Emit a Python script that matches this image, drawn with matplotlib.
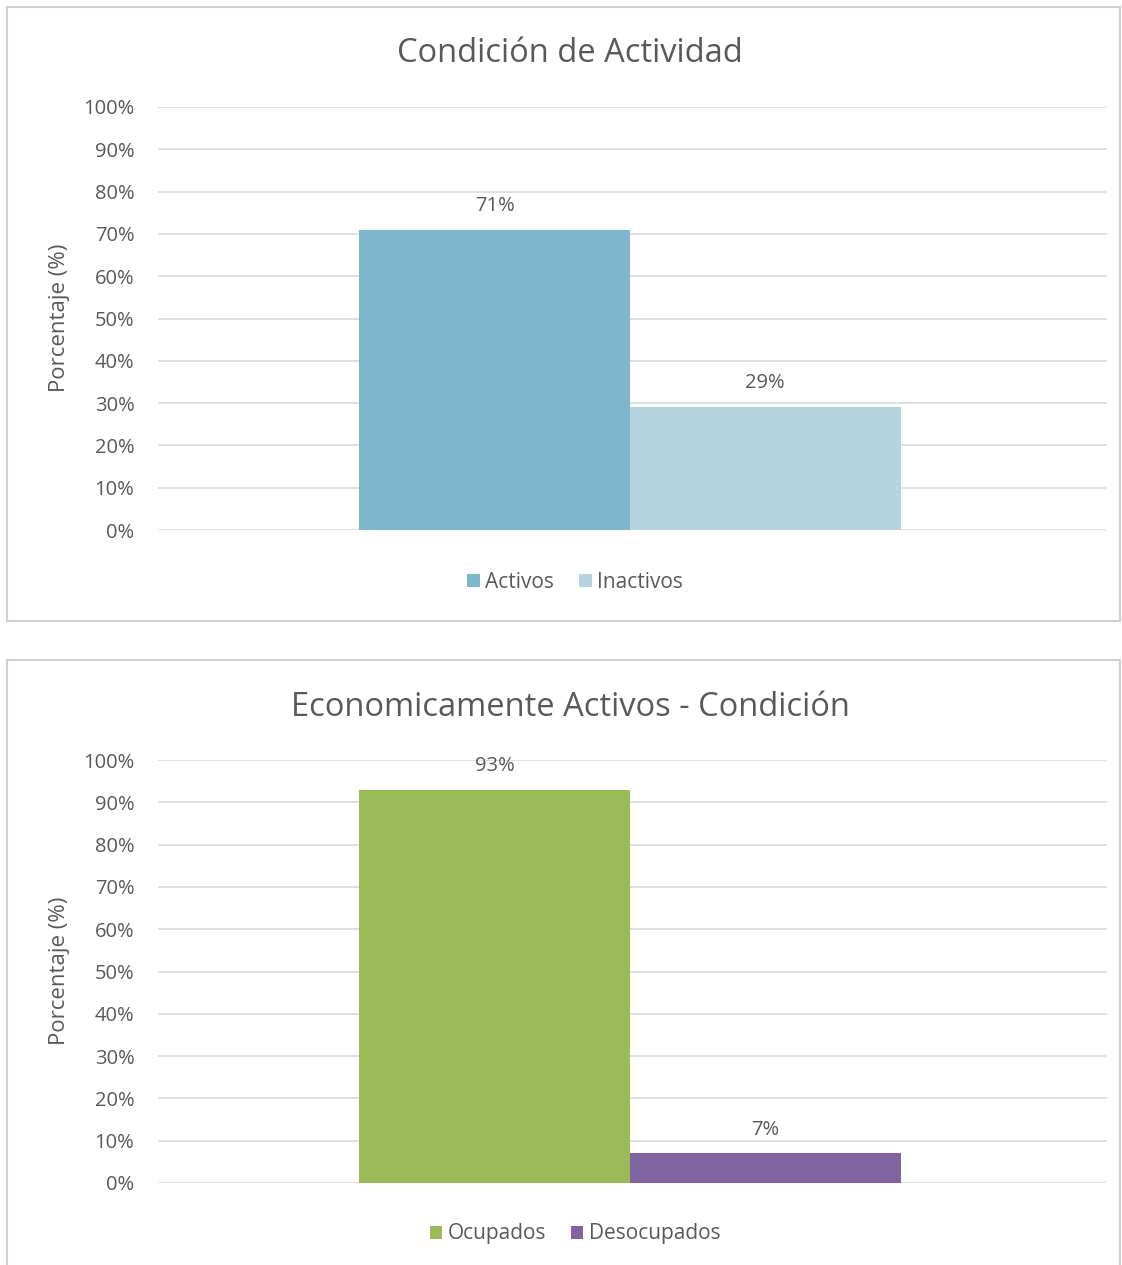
import matplotlib
matplotlib.use("Agg")
import matplotlib.pyplot as plt
from matplotlib.patches import Rectangle
from matplotlib.ticker import FuncFormatter

plt.rcParams['font.family'] = ['Open Sans', 'DejaVu Sans']

# Data
titles = ["Condición de Actividad", "Economicamente Activos - Condición"]
series_names = [["Activos", "Inactivos"], ["Ocupados", "Desocupados"]]
series_values = [[71, 29], [93, 7]]
series_colors = [["#7EB7CD", "#B6D4DF"], ["#9BBB59", "#8064A2"]]
y_ticks = [0, 10, 20, 30, 40, 50, 60, 70, 80, 90, 100]
y_label = "Porcentaje (%)"

W, H = 1122, 1265
fig = plt.figure(figsize=(W / 100, H / 100), dpi=100)

txt = "#595959"
grid_c = "#D9D9D9"

# chart frames (pixel coords -> figure fraction)
def frame(x0, y0, x1, y1):
    fig.patches.append(Rectangle((x0 / W, 1 - y1 / H), (x1 - x0) / W, (y1 - y0) / H,
                                 transform=fig.transFigure, fill=False,
                                 edgecolor="#D0D0D0", linewidth=1.5))

frame(7, 7, 1120, 621)
frame(7, 660, 1120, 1275)

ax_left, ax_right = 158, 1107
panels = [
    dict(y0=530, y100=107, title_y=54, legend_y=582, ylabel_y=318),
    dict(y0=1183, y100=760, title_y=708, legend_y=1234, ylabel_y=971),
]

bar_w = 270.5 / (ax_right - ax_left)

for i, p in enumerate(panels):
    ax = fig.add_axes([ax_left / W, 1 - p["y0"] / H,
                       (ax_right - ax_left) / W, (p["y0"] - p["y100"]) / H])
    ax.set_xlim(-0.5, 0.5)
    ax.set_ylim(0, 100)
    center = (630 - ax_left) / (ax_right - ax_left) - 0.5
    handles = []
    for j, (name, val, col) in enumerate(zip(series_names[i], series_values[i], series_colors[i])):
        xpos = center + (j - 0.5) * bar_w
        b = ax.bar(xpos, val, width=bar_w, color=col, label=name, zorder=3)
        handles.append(b)
        ax.annotate(f"{val}%", (xpos, val), xytext=(0, 10), textcoords="offset points",
                    ha="center", va="bottom", fontsize=14.5, color=txt)
    ax.set_yticks(y_ticks)
    ax.yaxis.set_major_formatter(FuncFormatter(lambda v, pos: f"{int(v)}%"))
    ax.tick_params(axis="y", length=0, pad=17, labelsize=14.5, labelcolor=txt)
    ax.set_xticks([])
    ax.grid(axis="y", color=grid_c, linewidth=1.2, zorder=0)
    for s in ax.spines.values():
        s.set_visible(False)
    fig.text(570 / W, 1 - p["title_y"] / H, titles[i], ha="center", va="center",
             fontsize=23.5, color=txt)
    fig.text(59 / W, 1 - p["ylabel_y"] / H, y_label, ha="center", va="center",
             rotation=90, fontsize=16, color=txt)
    fig.legend(handles=handles, labels=series_names[i], loc="center",
               bbox_to_anchor=(575 / W, 1 - p["legend_y"] / H), ncol=2, frameon=False,
               fontsize=15, labelcolor=txt, handlelength=0.6, handleheight=0.6,
               handletextpad=0.25, columnspacing=1.2)

fig.savefig("out.png", dpi=100, facecolor="white")
